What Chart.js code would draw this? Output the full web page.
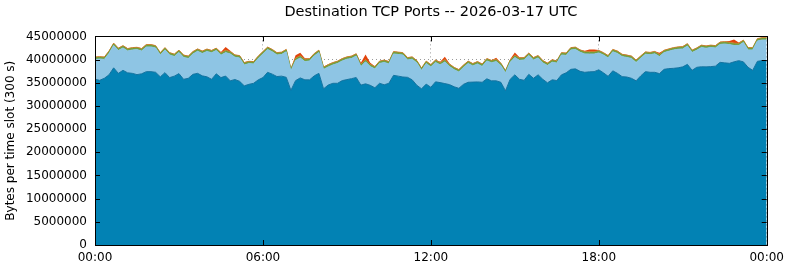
<!DOCTYPE html>
<html lang="en">
<head>
    <meta charset="UTF-8">
    <title>Destination TCP Ports</title>
    <script src="https://cdn.jsdelivr.net/npm/chart.js"></script>
    <style>
        html, body { margin: 0; padding: 0; background: #fff; }
        #wrap { width: 790px; height: 267px; }
    </style>
</head>
<body>
<div id="wrap"><canvas id="ports-chart"></canvas></div>
<script>
    // values in millions of bytes per 300 s slot, one point every 10 minutes (00:00 .. 24:00)
    const dark = [
        35.74, 35.53, 35.96, 36.71, 38.22, 37.03, 37.68, 37.14, 37.03, 36.75, 36.93, 37.40,
        37.40, 37.25, 36.28, 37.18, 36.11, 36.43, 36.97, 35.74, 35.96, 36.82, 37.03, 36.49,
        36.28, 35.74, 36.93, 36.11, 36.45, 35.42, 35.70, 35.31, 34.34, 34.66, 34.88, 35.63,
        36.11, 37.25, 36.86, 36.34, 36.43, 36.17, 33.37, 35.46, 36.04, 35.63, 35.63, 36.49,
        37.03, 33.70, 34.51, 34.88, 34.88, 35.46, 35.68, 35.89, 36.13, 34.49, 34.77, 34.45,
        33.91, 34.88, 34.56, 34.88, 36.60, 36.43, 36.24, 36.17, 35.63, 34.45, 33.70, 34.71,
        34.02, 35.20, 35.03, 34.82, 34.60, 34.13, 33.80, 34.66, 35.10, 35.14, 35.18, 35.10,
        35.85, 35.42, 35.42, 35.10, 33.27, 35.74, 36.71, 35.74, 35.53, 36.82, 35.96, 36.71,
        35.74, 34.99, 35.63, 35.48, 36.71, 37.14, 37.89, 38.00, 37.46, 37.25, 37.36, 37.40,
        37.79, 37.14, 36.39, 37.57, 37.03, 36.32, 36.24, 35.96, 35.42, 36.49, 37.40, 37.25,
        37.25, 36.97, 37.89, 38.05, 38.11, 38.22, 38.43, 38.97, 37.68, 38.33, 38.45, 38.43,
        38.48, 38.58, 39.40, 39.29, 39.19, 39.51, 39.77, 39.51, 38.33, 37.68, 39.62, 39.77,
        39.77
    ];
    const light = [
        4.30, 4.61, 4.08, 4.62, 4.83, 4.94, 4.83, 4.73, 5.05, 5.40, 4.94, 5.33,
        5.33, 5.26, 4.72, 4.90, 4.89, 4.25, 4.57, 4.73, 4.29, 4.40, 4.77, 4.84,
        5.48, 5.74, 5.04, 4.85, 5.05, 5.80, 4.81, 5.05, 4.51, 4.47, 4.19, 4.62,
        5.11, 4.94, 4.83, 4.66, 4.68, 5.52, 4.19, 4.35, 4.31, 3.93, 4.08, 4.30,
        4.51, 4.18, 3.91, 3.97, 4.29, 4.25, 4.40, 4.36, 4.62, 4.00, 4.75, 4.04,
        4.08, 4.29, 4.83, 4.19, 4.62, 4.68, 4.76, 3.76, 4.45, 4.83, 3.97, 4.46,
        4.40, 4.19, 3.83, 4.67, 3.89, 3.69, 3.54, 3.65, 4.07, 3.50, 3.89, 3.43,
        3.86, 3.91, 4.15, 3.64, 3.86, 3.66, 3.74, 4.09, 4.40, 4.08, 3.97, 3.65,
        3.54, 3.75, 3.82, 3.76, 4.29, 3.76, 4.19, 4.19, 4.13, 3.98, 3.84, 3.80,
        3.65, 3.86, 3.97, 4.12, 4.30, 4.32, 4.23, 4.29, 3.97, 3.80, 3.76, 3.80,
        4.01, 3.68, 3.61, 3.75, 3.97, 4.01, 3.87, 3.97, 3.86, 3.69, 4.17, 4.02,
        4.14, 3.93, 3.87, 4.08, 4.04, 3.54, 3.24, 4.19, 3.75, 4.40, 4.40, 4.46,
        4.46
    ];
    const green = [
        0.30, 0.30, 0.30, 0.30, 0.30, 0.30, 0.30, 0.30, 0.30, 0.30, 0.30, 0.30,
        0.30, 0.30, 0.30, 0.30, 0.30, 0.30, 0.30, 0.30, 0.30, 0.30, 0.30, 0.30,
        0.30, 0.30, 0.30, 0.30, 0.30, 0.30, 0.30, 0.30, 0.30, 0.30, 0.30, 0.30,
        0.30, 0.30, 0.30, 0.30, 0.30, 0.30, 0.30, 0.30, 0.30, 0.30, 0.30, 0.30,
        0.30, 0.30, 0.30, 0.30, 0.30, 0.30, 0.30, 0.30, 0.30, 0.30, 0.30, 0.30,
        0.30, 0.30, 0.30, 0.30, 0.30, 0.30, 0.30, 0.30, 0.30, 0.30, 0.30, 0.30,
        0.30, 0.30, 0.30, 0.30, 0.30, 0.30, 0.30, 0.30, 0.30, 0.30, 0.30, 0.30,
        0.30, 0.30, 0.30, 0.30, 0.30, 0.30, 0.30, 0.30, 0.30, 0.30, 0.30, 0.30,
        0.30, 0.30, 0.30, 0.30, 0.30, 0.30, 0.30, 0.30, 0.30, 0.30, 0.30, 0.30,
        0.30, 0.30, 0.30, 0.30, 0.30, 0.30, 0.30, 0.30, 0.30, 0.30, 0.30, 0.30,
        0.30, 0.30, 0.30, 0.30, 0.30, 0.30, 0.30, 0.30, 0.30, 0.30, 0.30, 0.30,
        0.30, 0.30, 0.30, 0.30, 0.30, 0.30, 0.30, 0.30, 0.30, 0.30, 0.30, 0.30,
        0.30
    ];
    const orange = [
        0.20, 0.20, 0.20, 0.20, 0.20, 0.20, 0.20, 0.20, 0.20, 0.20, 0.20, 0.20,
        0.20, 0.20, 0.20, 0.20, 0.20, 0.20, 0.20, 0.20, 0.20, 0.20, 0.20, 0.20,
        0.20, 0.20, 0.20, 0.20, 0.20, 0.20, 0.20, 0.20, 0.20, 0.20, 0.20, 0.20,
        0.20, 0.20, 0.20, 0.20, 0.20, 0.20, 0.20, 0.20, 0.20, 0.20, 0.20, 0.20,
        0.20, 0.20, 0.20, 0.20, 0.20, 0.20, 0.20, 0.20, 0.20, 0.20, 0.20, 0.20,
        0.20, 0.20, 0.20, 0.20, 0.20, 0.20, 0.20, 0.20, 0.20, 0.20, 0.20, 0.20,
        0.20, 0.20, 0.20, 0.20, 0.20, 0.20, 0.20, 0.20, 0.20, 0.20, 0.20, 0.20,
        0.20, 0.20, 0.20, 0.20, 0.20, 0.20, 0.20, 0.20, 0.20, 0.20, 0.20, 0.20,
        0.20, 0.20, 0.20, 0.20, 0.20, 0.20, 0.20, 0.20, 0.20, 0.20, 0.20, 0.20,
        0.20, 0.20, 0.20, 0.20, 0.20, 0.20, 0.20, 0.20, 0.20, 0.20, 0.20, 0.20,
        0.20, 0.20, 0.20, 0.20, 0.20, 0.20, 0.20, 0.20, 0.20, 0.20, 0.20, 0.20,
        0.20, 0.20, 0.20, 0.20, 0.20, 0.20, 0.20, 0.20, 0.20, 0.20, 0.20, 0.20,
        0.20
    ];
    const red = [
        0.05, 0.05, 0.05, 0.05, 0.05, 0.05, 0.05, 0.05, 0.05, 0.05, 0.05, 0.05,
        0.05, 0.05, 0.05, 0.05, 0.05, 0.05, 0.05, 0.05, 0.05, 0.05, 0.05, 0.05,
        0.05, 0.05, 0.05, 0.20, 0.70, 0.20, 0.05, 0.05, 0.05, 0.05, 0.05, 0.05,
        0.05, 0.05, 0.05, 0.05, 0.05, 0.05, 0.05, 0.60, 0.60, 0.20, 0.05, 0.05,
        0.05, 0.05, 0.05, 0.05, 0.05, 0.05, 0.05, 0.05, 0.05, 0.30, 1.10, 0.30,
        0.05, 0.05, 0.05, 0.05, 0.05, 0.05, 0.05, 0.05, 0.05, 0.05, 0.05, 0.05,
        0.05, 0.05, 0.15, 0.60, 0.15, 0.05, 0.05, 0.05, 0.05, 0.05, 0.05, 0.05,
        0.05, 0.05, 0.30, 0.05, 0.05, 0.15, 0.60, 0.15, 0.05, 0.05, 0.05, 0.05,
        0.05, 0.05, 0.05, 0.05, 0.05, 0.05, 0.05, 0.05, 0.05, 0.15, 0.50, 0.50,
        0.15, 0.05, 0.05, 0.05, 0.05, 0.05, 0.05, 0.05, 0.05, 0.05, 0.05, 0.05,
        0.05, 0.30, 0.05, 0.05, 0.05, 0.05, 0.05, 0.05, 0.05, 0.05, 0.05, 0.05,
        0.05, 0.05, 0.05, 0.05, 0.30, 0.80, 0.20, 0.05, 0.05, 0.05, 0.05, 0.05,
        0.05
    ];
    const xTicks = ['00:00', '06:00', '12:00', '18:00', '00:00'];

    const minutes = dark.map((_, i) => i * 10);
    const toPoints = arr => arr.map((v, i) => ({x: minutes[i], y: v * 1e6}));

    Chart.defaults.font.family = 'DejaVu Sans';
    Chart.defaults.font.size = 12;
    Chart.defaults.color = '#000';

    // gnuplot style frame with inward ticks
    const frame = {
        id: 'frame',
        afterDraw(chart) {
            const {ctx, chartArea: a, scales: {x, y}} = chart;
            ctx.save();
            ctx.strokeStyle = '#000';
            ctx.lineWidth = 1;
            ctx.beginPath();
            y.ticks.forEach(t => {
                const py = Math.round(y.getPixelForValue(t.value)) + 0.5;
                ctx.moveTo(a.left, py); ctx.lineTo(a.left + 5, py);
                ctx.moveTo(a.right, py); ctx.lineTo(a.right - 5, py);
            });
            x.ticks.forEach(t => {
                const px = Math.round(x.getPixelForValue(t.value)) + 0.5;
                ctx.moveTo(px, a.bottom); ctx.lineTo(px, a.bottom - 5);
                ctx.moveTo(px, a.top); ctx.lineTo(px, a.top + 5);
            });
            ctx.stroke();
            ctx.strokeRect(Math.round(a.left) + 0.5, Math.round(a.top) + 0.5,
                Math.round(a.right - a.left), Math.round(a.bottom - a.top));
            ctx.restore();
        }
    };

    const ctx = document.getElementById('ports-chart').getContext('2d');
    new Chart(ctx, {
        type: 'line',
        data: {
            datasets: [
                {label: 'dark', data: toPoints(dark), backgroundColor: '#0282b4', borderColor: '#1573a0', borderWidth: 1, fill: 'origin'},
                {label: 'light', data: toPoints(light), backgroundColor: '#8ec5e4', borderColor: '#8ec5e4', borderWidth: 1, fill: '-1'},
                {label: 'green', data: toPoints(green), backgroundColor: '#6f9e38', borderColor: '#6f9e38', borderWidth: 1, fill: '-1'},
                {label: 'orange', data: toPoints(orange), backgroundColor: '#c8802e', borderColor: '#c8802e', borderWidth: 1, fill: '-1'},
                {label: 'red', data: toPoints(red), backgroundColor: '#e2430c', borderColor: '#e2430c', borderWidth: 0, fill: '-1'}
            ]
        },
        options: {
            responsive: true,
            maintainAspectRatio: false,
            animation: false,
            events: [],
            elements: {point: {radius: 0}, line: {tension: 0}},
            layout: {padding: {left: 0, right: 22, top: 0, bottom: 0}},
            plugins: {
                legend: {display: false},
                tooltip: {enabled: false},
                title: {
                    display: true,
                    text: 'Destination TCP Ports -- 2026-03-17 UTC',
                    fullSize: false,
                    font: {size: 14.5, weight: 'normal'},
                    padding: {top: 4, bottom: 15}
                }
            },
            scales: {
                x: {
                    type: 'linear',
                    min: 0,
                    max: 1440,
                    afterFit: s => { s.height = 22; },
                    afterBuildTicks: s => { s.ticks = xTicks.map((_, i) => ({value: i * 360})); },
                    ticks: {
                        padding: 6,
                        maxRotation: 0,
                        autoSkip: false,
                        callback: (v, i) => xTicks[i]
                    },
                    grid: {color: '#9a9a9a', drawTicks: false},
                    border: {display: true, color: '#000', dash: [1, 3]}
                },
                y: {
                    stacked: true,
                    min: 0,
                    max: 45000000,
                    afterFit: s => { s.width = 95; },
                    ticks: {
                        stepSize: 5000000,
                        padding: 8,
                        callback: v => String(v)
                    },
                    title: {
                        display: true,
                        text: 'Bytes per time slot (300 s)',
                        font: {size: 12},
                        padding: {top: 4, bottom: 0}
                    },
                    grid: {color: '#9a9a9a', drawTicks: false},
                    border: {display: true, color: '#000', dash: [1, 3]}
                }
            }
        },
        plugins: [frame]
    });
</script>
</body>
</html>
